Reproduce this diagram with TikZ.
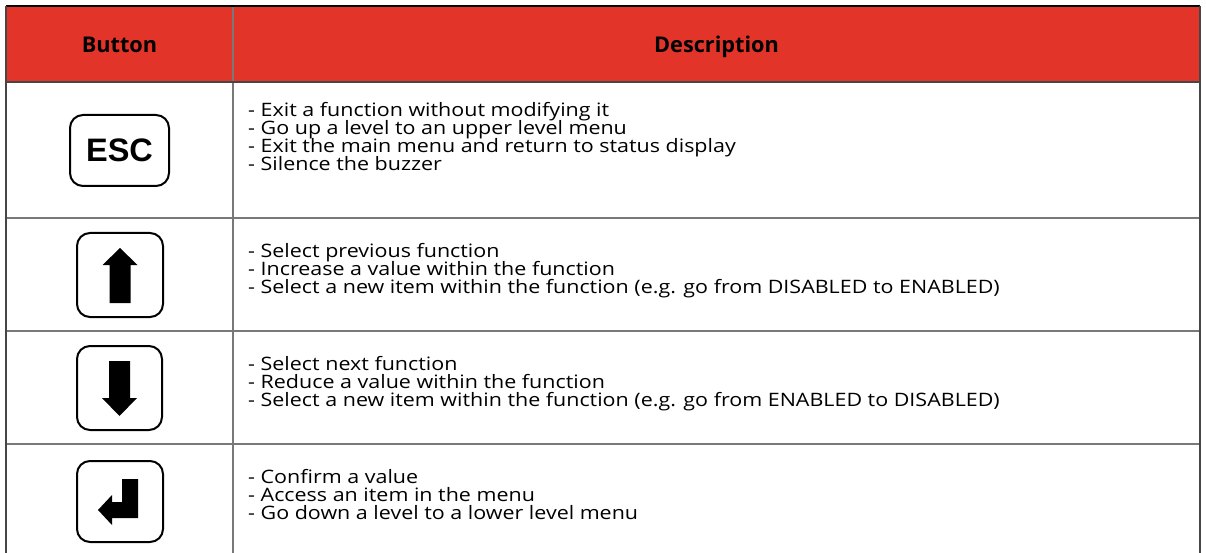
\documentclass[tikz,border=0pt]{standalone}
\usepackage{fontspec}
\setmainfont{Open Sans}[FakeStretch=1.16]
\newfontfamily\headfont{Open Sans}
\newfontfamily\escfont{Liberation Sans}
\definecolor{hdr}{RGB}{227,52,42}
\definecolor{gridc}{RGB}{120,120,120}
\definecolor{darkc}{RGB}{70,70,70}
\begin{document}
\begin{tikzpicture}[x=1pt,y=-1pt,
  desc/.style={anchor=base west, inner sep=0pt, font=\fontsize{18.5}{18}\selectfont},
  headtxt/.style={anchor=base, inner sep=0pt, font=\headfont\fontsize{21.7}{22}\selectfont\bfseries},
  btn/.style={draw=black, line width=2pt, rounded corners=13pt, inner sep=0pt},
  gridline/.style={draw=gridc, line width=1.2pt},
  glyph/.style={fill=black}]
\useasboundingbox (0,0) rectangle (1206,553);
% header
\fill[hdr] (6,6) rectangle (1200,82);
% grid
\draw[gridline] (233,6) -- (233,553);
\draw[gridline] (6,218) -- (1200,218);
\draw[gridline] (6,331) -- (1200,331);
\draw[gridline] (6,444) -- (1200,444);
\draw[darkc, line width=1.5pt] (6,82) -- (1200,82);
\draw[black, line width=1.5pt] (6,6) -- (1200,6);
\draw[darkc, line width=1.6pt] (6,6) -- (6,553);
\draw[darkc, line width=2pt] (1200,6) -- (1200,553);
% header texts
\node[headtxt] (hbutton) at (119.5,52.5) {Button};
\node[headtxt] (hdesc) at (716.5,52.5) {Description};
% buttons
\node[btn, minimum width=99pt, minimum height=71pt] (esc) at (119.5,150.5)
  {\escfont\bfseries\fontsize{32.5}{32.5}\selectfont ESC};
\node[btn, minimum width=86pt, minimum height=84pt] (up) at (120,275) {};
\node[btn, minimum width=85pt, minimum height=84pt] (down) at (119.5,388) {};
\node[btn, minimum width=86pt, minimum height=81pt] (enter) at (120,501.5) {};
% glyphs
\fill[glyph, shift={(up.center)}] (0,-27) -- (17.5,-10) -- (10.5,-10) -- (10.5,28)
  -- (-10.5,28) -- (-10.5,-10) -- (-17.5,-10) -- cycle;
\fill[glyph, shift={(down.center)}] (0,28) -- (17.5,10) -- (10.5,10) -- (10.5,-27)
  -- (-10.5,-27) -- (-10.5,10) -- (-17.5,10) -- cycle;
\fill[glyph, shift={(enter.center)}] (18,-22.5) -- (18,16.5) -- (-8,16.5) -- (-8,23.5)
  -- (-22,8.5) -- (-8,-6.5) -- (-8,0.5) -- (2,0.5) -- (2,-22.5) -- cycle;
% descriptions
\node[desc] (d11) at (248,117) {- Exit a function without modifying it};
\node[desc] (d12) at (248,135) {- Go up a level to an upper level menu};
\node[desc] (d13) at (248,152.5) {- Exit the main menu and return to status display};
\node[desc] (d14) at (248,170.5) {- Silence the buzzer};
\node[desc] (d21) at (248,257) {- Select previous function};
\node[desc] (d22) at (248,275) {- Increase a value within the function};
\node[desc] (d23) at (248,293) {- Select a new item within the function (e.g. go from DISABLED to ENABLED)};
\node[desc] (d31) at (248,370) {- Select next function};
\node[desc] (d32) at (248,388) {- Reduce a value within the function};
\node[desc] (d33) at (248,406) {- Select a new item within the function (e.g. go from ENABLED to DISABLED)};
\node[desc] (d41) at (248,483) {- Confirm a value};
\node[desc] (d42) at (248,501) {- Access an item in the menu};
\node[desc] (d43) at (248,519) {- Go down a level to a lower level menu};
\end{tikzpicture}
\end{document}
